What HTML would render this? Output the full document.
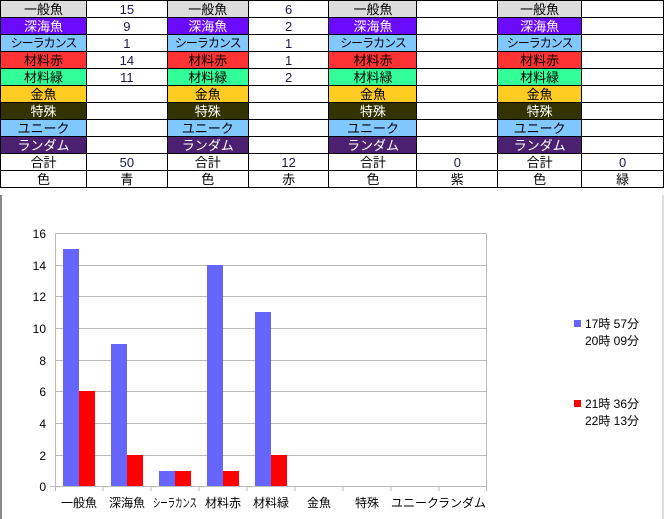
<!DOCTYPE html>
<html><head><meta charset="utf-8"><style>
body{margin:0;width:664px;height:519px;background:#fff;position:relative;overflow:hidden;font-family:"Liberation Sans","Noto Sans CJK JP",sans-serif;}
table{position:absolute;left:0;top:0;border-collapse:collapse;table-layout:fixed;}
td{border:1px solid #000;height:16px;padding:0;font-size:13px;text-align:center;line-height:15px;overflow:hidden;white-space:nowrap;color:#000;}
td.v{color:#1a1a50;}
.g{background:#dcdcdc}.p{background:#6a0aff;color:#fff}.c{background:#80c8ff;font-size:12px;letter-spacing:-1px}.r{background:#ff3333}.gr{background:#33ff99}.y{background:#ffcc22}.d{background:#333300;color:#fff}.u{background:#80c8ff}.l{background:#4b2070;color:#fff}
svg{position:absolute;left:0;top:0}
</style></head><body>
<table>
<colgroup><col style="width:86px"><col style="width:81px"><col style="width:81px"><col style="width:81px"><col style="width:88px"><col style="width:81px"><col style="width:84px"><col style="width:82px"></colgroup>
<tr><td class="g">一般魚</td><td class="v">15</td><td class="g">一般魚</td><td class="v">6</td><td class="g">一般魚</td><td></td><td class="g">一般魚</td><td></td></tr>
<tr><td class="p">深海魚</td><td class="v">9</td><td class="p">深海魚</td><td class="v">2</td><td class="p">深海魚</td><td></td><td class="p">深海魚</td><td></td></tr>
<tr><td class="c">シーラカンス</td><td class="v">1</td><td class="c">シーラカンス</td><td class="v">1</td><td class="c">シーラカンス</td><td></td><td class="c">シーラカンス</td><td></td></tr>
<tr><td class="r">材料赤</td><td class="v">14</td><td class="r">材料赤</td><td class="v">1</td><td class="r">材料赤</td><td></td><td class="r">材料赤</td><td></td></tr>
<tr><td class="gr">材料緑</td><td class="v">11</td><td class="gr">材料緑</td><td class="v">2</td><td class="gr">材料緑</td><td></td><td class="gr">材料緑</td><td></td></tr>
<tr><td class="y">金魚</td><td></td><td class="y">金魚</td><td></td><td class="y">金魚</td><td></td><td class="y">金魚</td><td></td></tr>
<tr><td class="d">特殊</td><td></td><td class="d">特殊</td><td></td><td class="d">特殊</td><td></td><td class="d">特殊</td><td></td></tr>
<tr><td class="u">ユニーク</td><td></td><td class="u">ユニーク</td><td></td><td class="u">ユニーク</td><td></td><td class="u">ユニーク</td><td></td></tr>
<tr><td class="l">ランダム</td><td></td><td class="l">ランダム</td><td></td><td class="l">ランダム</td><td></td><td class="l">ランダム</td><td></td></tr>
<tr><td>合計</td><td class="v">50</td><td>合計</td><td class="v">12</td><td>合計</td><td class="v">0</td><td>合計</td><td class="v">0</td></tr>
<tr><td>色</td><td>青</td><td>色</td><td>赤</td><td>色</td><td>紫</td><td>色</td><td>緑</td></tr>
</table>
<svg width="664" height="519" font-family="Liberation Sans, Noto Sans CJK JP, sans-serif">
<line x1="1" y1="195" x2="1" y2="519" stroke="#888" stroke-width="2"/>
<line x1="663" y1="195" x2="663" y2="519" stroke="#bbb" stroke-width="1"/>
<g stroke="#bbb" stroke-width="1">
<line x1="55" y1="233.5" x2="486" y2="233.5"/><line x1="55" y1="265.5" x2="486" y2="265.5"/><line x1="55" y1="296.5" x2="486" y2="296.5"/><line x1="55" y1="328.5" x2="486" y2="328.5"/><line x1="55" y1="360.5" x2="486" y2="360.5"/><line x1="55" y1="391.5" x2="486" y2="391.5"/><line x1="55" y1="423.5" x2="486" y2="423.5"/><line x1="55" y1="455.5" x2="486" y2="455.5"/>
<line x1="55.5" y1="233" x2="55.5" y2="491"/><line x1="486.5" y1="233" x2="486.5" y2="491"/>
<line x1="50" y1="486.5" x2="486" y2="486.5"/>
<line x1="103" y1="486" x2="103" y2="491"/><line x1="151" y1="486" x2="151" y2="491"/><line x1="199" y1="486" x2="199" y2="491"/><line x1="247" y1="486" x2="247" y2="491"/><line x1="295" y1="486" x2="295" y2="491"/><line x1="343" y1="486" x2="343" y2="491"/><line x1="391" y1="486" x2="391" y2="491"/><line x1="439" y1="486" x2="439" y2="491"/>
</g>
<g fill="#6666ff">
<rect x="63" y="249" width="16" height="237"/><rect x="111" y="344" width="16" height="142"/><rect x="159" y="471" width="16" height="15"/><rect x="207" y="265" width="16" height="221"/><rect x="255" y="312" width="16" height="174"/>
</g>
<g fill="#ff0000">
<rect x="79" y="391" width="16" height="95"/><rect x="127" y="455" width="16" height="31"/><rect x="175" y="471" width="16" height="15"/><rect x="223" y="471" width="16" height="15"/><rect x="271" y="455" width="16" height="31"/>
</g>
<g font-size="12" text-anchor="end" fill="#000">
<text x="46" y="238">16</text><text x="46" y="270">14</text><text x="46" y="301">12</text><text x="46" y="333">10</text><text x="46" y="365">8</text><text x="46" y="396">6</text><text x="46" y="428">4</text><text x="46" y="460">2</text><text x="46" y="491">0</text>
</g>
<g font-size="12" text-anchor="middle" fill="#000">
<text x="79" y="507">一般魚</text><text x="127" y="507">深海魚</text><text x="153" y="507" text-anchor="start" textLength="44" lengthAdjust="spacingAndGlyphs">シーラカンス</text><text x="223" y="507">材料赤</text><text x="271" y="507">材料緑</text><text x="319" y="507">金魚</text><text x="367" y="507">特殊</text><text x="415" y="507">ユニーク</text><text x="462" y="507">ランダム</text>
</g>
<rect x="574" y="320" width="7" height="7" fill="#6666ff"/>
<rect x="574" y="400" width="7" height="7" fill="#ff0000"/>
<g font-size="12" fill="#000">
<text x="585" y="328">17時 57分</text><text x="585" y="345">20時 09分</text>
<text x="585" y="408">21時 36分</text><text x="585" y="425">22時 13分</text>
</g>
</svg>
</body></html>
